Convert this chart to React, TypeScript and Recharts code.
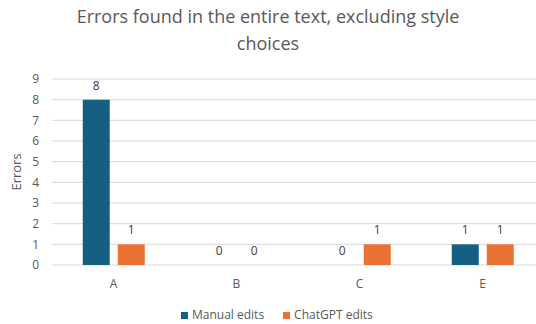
import React from "react";
import { BarChart, Bar, XAxis, YAxis, CartesianGrid, LabelList } from "recharts";

const categories = ["A", "B", "C", "E"];
const manualEdits = [8, 0, 0, 1];
const chatgptEdits = [1, 0, 1, 1];
const yTicks = [0, 1, 2, 3, 4, 5, 6, 7, 8, 9];

const data = categories.map((name, i) => ({
  name,
  manual: manualEdits[i],
  chatgpt: chatgptEdits[i],
}));

const FONT = "'Open Sans', 'Noto Sans', sans-serif";
const TEXT = "#595959";
const BLUE = "#156082";
const ORANGE = "#E97132";

const legendItems = [
  { label: "Manual edits", color: BLUE },
  { label: "ChatGPT edits", color: ORANGE },
];

// Value label above each bar, also drawn for zero-height bars
const ValueLabel = (props: any) => {
  const { x, y, width, value } = props;
  if (x == null || y == null) return null;
  return (
    <text
      x={Number(x) + Number(width) / 2}
      y={Number(y) - 10}
      textAnchor="middle"
      fill="#404040"
      fontSize={12}
      fontFamily={FONT}
    >
      {value}
    </text>
  );
};

export default function App() {
  return (
    <div
      style={{
        position: "absolute",
        left: 0,
        top: 0,
        width: 536,
        height: 324,
        overflow: "hidden",
        background: "#fff",
      }}
    >
      <div
        style={{
          position: "absolute",
          left: 0,
          top: 3,
          width: 536,
          textAlign: "center",
          fontFamily: FONT,
          fontSize: 18,
          lineHeight: "27px",
          color: TEXT,
        }}
      >
        Errors found in the entire text, excluding style
        <br />
        choices
      </div>
      <BarChart
        width={560}
        height={324}
        data={data}
        margin={{ top: 79, right: 16, bottom: 40, left: 0 }}
        barCategoryGap="25%"
        barGap={8}
      >
        <CartesianGrid vertical={false} stroke="#D9D9D9" strokeWidth={1} />
        <XAxis
          dataKey="name"
          axisLine={false}
          tickLine={false}
          tickMargin={8}
          height={19}
          tick={{ fill: TEXT, fontSize: 12, fontFamily: FONT }}
        />
        <YAxis
          domain={[0, 9]}
          ticks={yTicks}
          interval={0}
          axisLine={false}
          tickLine={false}
          tickMargin={7}
          width={52}
          tick={{ fill: TEXT, fontSize: 12, fontFamily: FONT }}
          label={{
            value: "Errors",
            angle: -90,
            position: "insideLeft",
            offset: 16,
            style: { fill: TEXT, fontSize: 13, fontFamily: FONT, textAnchor: "middle" },
          }}
        />
        <Bar
          dataKey="manual"
          name="Manual edits"
          fill={BLUE}
          minPointSize={0.01}
          isAnimationActive={false}
        >
          <LabelList dataKey="manual" content={ValueLabel} />
        </Bar>
        <Bar
          dataKey="chatgpt"
          name="ChatGPT edits"
          fill={ORANGE}
          minPointSize={0.01}
          isAnimationActive={false}
        >
          <LabelList dataKey="chatgpt" content={ValueLabel} />
        </Bar>
      </BarChart>
      <div
        style={{
          position: "absolute",
          left: 181,
          top: 306,
          display: "flex",
          gap: 19,
          fontFamily: FONT,
          fontSize: 12,
          lineHeight: "18px",
          color: TEXT,
          whiteSpace: "nowrap",
        }}
      >
        {legendItems.map((it) => (
          <div key={it.label} style={{ display: "flex", alignItems: "center", gap: 4 }}>
            <span style={{ width: 7, height: 7, background: it.color, display: "inline-block" }} />
            <span>{it.label}</span>
          </div>
        ))}
      </div>
    </div>
  );
}
